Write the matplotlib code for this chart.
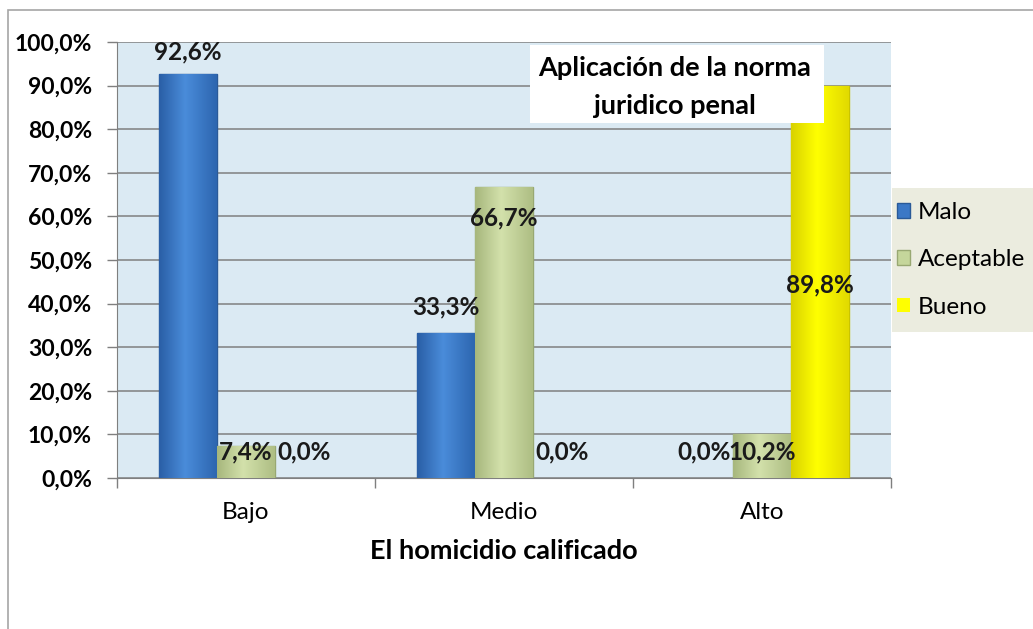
import matplotlib.pyplot as plt
import numpy as np
from matplotlib.patches import Rectangle
from matplotlib.colors import LinearSegmentedColormap

plt.rcParams['font.family'] = ['Lato', 'DejaVu Sans']

categories = ['Bajo', 'Medio', 'Alto']
series = ['Malo', 'Aceptable', 'Bueno']
malo = [92.6, 33.3, 0.0]
aceptable = [7.4, 66.7, 10.2]
bueno = [0.0, 0.0, 89.8]

# where each data label sits (in % units), as placed in the original
label_y = [
    [97.7, 39.2, 6.0],
    [6.0, 59.6, 6.0],
    [6.0, 6.0, 44.3],
]

colors = ['#3b78c6', '#c5d69b', '#ffff00']
edges = ['#2a5a98', '#98a872', '#c9c400']
# bevel-ish shading across each bar: edge, centre, edge
shades = [['#2a5fa6', '#4a8cda', '#2d66b0'],
          ['#a7b77d', '#d3e1ab', '#aebe84'],
          ['#d9d200', '#ffff00', '#e2da00']]

fig = plt.figure(figsize=(10.33, 6.29), dpi=100)

# outer chart border
fig.patches.append(Rectangle((8 / 1033, -0.01), 1.0, 1 - 10 / 629 + 0.01,
                             transform=fig.transFigure, fill=False,
                             edgecolor='#a6a6a6', lw=1.2))

ax = fig.add_axes([117 / 1033, 1 - 478 / 629, (891 - 117) / 1033, (478 - 42) / 629])
ax.set_facecolor('#dbeaf3')

x = np.arange(len(categories))
w = 58 / 258
data = [malo, aceptable, bueno]
for i, vals in enumerate(data):
    pos = x + (i - 1) * w
    lws = [1.0 if v > 0 else 0 for v in vals]
    bars = ax.bar(pos, vals, width=w, color=colors[i], edgecolor=edges[i], lw=lws,
                  label=series[i], zorder=3)
    cmap = LinearSegmentedColormap.from_list('sh%d' % i,
                                             [(0, shades[i][0]), (0.45, shades[i][1]),
                                              (1, shades[i][2])])
    grad = np.linspace(0, 1, 64).reshape(1, -1)
    for b, v in zip(bars, vals):
        if v <= 0:
            continue
        im = ax.imshow(grad, cmap=cmap, aspect='auto', zorder=3.5,
                       extent=(b.get_x(), b.get_x() + b.get_width(), 0, v))
        im.set_clip_path(b)
    for p, v, ly in zip(pos, vals, label_y[i]):
        ax.text(p, ly, f'{v:.1f}%'.replace('.', ','), ha='center', va='center',
                fontsize=17.5, fontweight='bold', color='#1a1a1a', zorder=5)

ax.set_xlim(-0.5, 2.5)
ax.set_ylim(0, 100)
ax.set_yticks(np.arange(0, 101, 10))
ax.set_yticklabels([f'{t:.1f}%'.replace('.', ',') for t in range(0, 101, 10)],
                   fontsize=16.5, fontweight='bold')
ax.yaxis.grid(True, color='#7f7f7f', lw=1.1, zorder=1)
ax.set_axisbelow(True)
ax.tick_params(axis='y', length=7, width=1, color='#7f7f7f', pad=11)

ax.set_xticks([-0.5, 0.5, 1.5, 2.5])
ax.set_xticklabels([])
ax.set_xticks(x, minor=True)
ax.set_xticklabels(categories, minor=True, fontsize=17.5)
ax.tick_params(axis='x', which='major', length=7, width=1, color='#7f7f7f')
ax.tick_params(axis='x', which='minor', length=0, pad=17)
ax.set_xlabel('El homicidio calificado', fontsize=19.5, fontweight='bold', labelpad=12)

for s in ['top', 'right']:
    ax.spines[s].set_visible(False)
for s in ['left', 'bottom']:
    ax.spines[s].set_color('#7f7f7f')

# chart title box
fig.patches.append(Rectangle((530 / 1033, 1 - 123 / 629), 294 / 1033, 78 / 629,
                             transform=fig.transFigure, facecolor='white',
                             edgecolor='none', zorder=4))
fig.text(675 / 1033, 1 - 68 / 629, 'Aplicación de la norma', ha='center', va='center',
         fontsize=19.5, fontweight='bold', zorder=6)
fig.text(675 / 1033, 1 - 106 / 629, 'juridico penal', ha='center', va='center',
         fontsize=19.5, fontweight='bold', zorder=6)

# legend panel
fig.patches.append(Rectangle((892 / 1033, 1 - 332 / 629), 141 / 1033, 144 / 629,
                             transform=fig.transFigure, facecolor='#ebecdf',
                             edgecolor='none', zorder=4))
leg = fig.legend(loc='upper left', bbox_to_anchor=(897 / 1033, 1 - 202 / 629),
                 frameon=False, fontsize=17.5, handlelength=0.55, handleheight=0.55,
                 handletextpad=0.3, labelspacing=1.08, borderpad=0, borderaxespad=0)
leg.set_zorder(6)

fig.savefig('out.png', dpi=100)
